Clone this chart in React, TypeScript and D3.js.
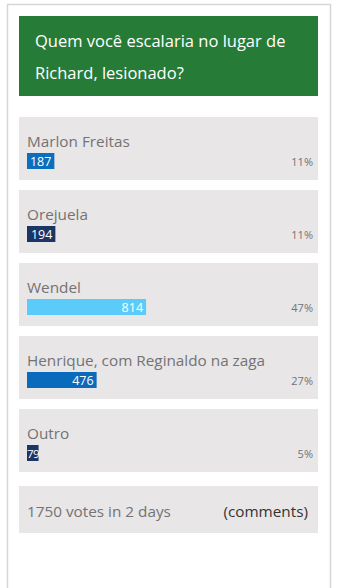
import React from "react";
import * as d3 from "d3";

const title = ["Quem você escalaria no lugar de", "Richard, lesionado?"];
const options = ["Marlon Freitas", "Orejuela", "Wendel", "Henrique, com Reginaldo na zaga", "Outro"];
const votes = [187, 194, 814, 476, 79];
const percents = ["11%", "11%", "47%", "27%", "5%"];
const barColors = ["#0b6fbd", "#1b3564", "#5bcbf9", "#0a6abc", "#1b3564"];
const footerLeft = "1750 votes in 2 days";
const footerRight = "(comments)";
const totalVotes = 1750;

const W = 338;
const H = 588;
const FONT = "'Open Sans', sans-serif";

export default function App() {
  const boxX = 19;
  const boxW = 299;
  const boxTop = 117;
  const step = 73;
  const boxH = 63;
  const barX = 27;
  const x = d3.scaleLinear().domain([0, totalVotes]).range([0, 256]);
  const y = d3.scaleLinear().domain([0, 1]).range([boxTop, boxTop + step]);
  const footerY = y(options.length - 1) + boxH + 14;

  return (
    <svg
      width={W}
      height={H}
      style={{ position: "absolute", left: 0, top: 0, display: "block" }}
      fontFamily={FONT}
    >
      <rect x={0} y={0} width={W} height={H} fill="#ffffff" />
      <path d={`M7.5,${H} V4.5 H330.5 V${H}`} fill="none" stroke="#d6d6d6" strokeWidth={1.5} />
      <rect x={boxX} y={16} width={boxW} height={80} fill="#267c37" />
      {title.map((t, i) => (
        <text key={i} x={35} y={47 + i * 32} fill="#ffffff" fontSize={16.5}>
          {t}
        </text>
      ))}
      {options.map((name, i) => {
        const top = y(i);
        const bw = Math.max(11, x(votes[i]));
        const small = bw < 24;
        return (
          <g key={name}>
            <rect x={boxX} y={top} width={boxW} height={boxH} fill="#e8e6e7" />
            <text x={barX} y={top + 30} fill="#737373" fontSize={15.3}>
              {name}
            </text>
            <rect x={barX} y={top + 36} width={bw} height={16} fill={barColors[i]} />
            <text
              x={small ? barX : barX + bw - 3}
              y={top + 48.5}
              fill="#ffffff"
              fontSize={small ? 11.5 : 12.5}
              textAnchor={small ? "start" : "end"}
              letterSpacing={small ? -0.5 : 0}
            >
              {votes[i]}
            </text>
            <text x={313} y={top + 48.5} fill="#737373" fontSize={11} textAnchor="end">
              {percents[i]}
            </text>
          </g>
        );
      })}
      <rect x={boxX} y={footerY} width={boxW} height={47} fill="#e8e6e7" />
      <text x={27} y={footerY + 30.5} fill="#737373" fontSize={15.3}>
        {footerLeft}
      </text>
      <text x={308} y={footerY + 30.5} fill="#333333" fontSize={15.3} textAnchor="end">
        {footerRight}
      </text>
    </svg>
  );
}
